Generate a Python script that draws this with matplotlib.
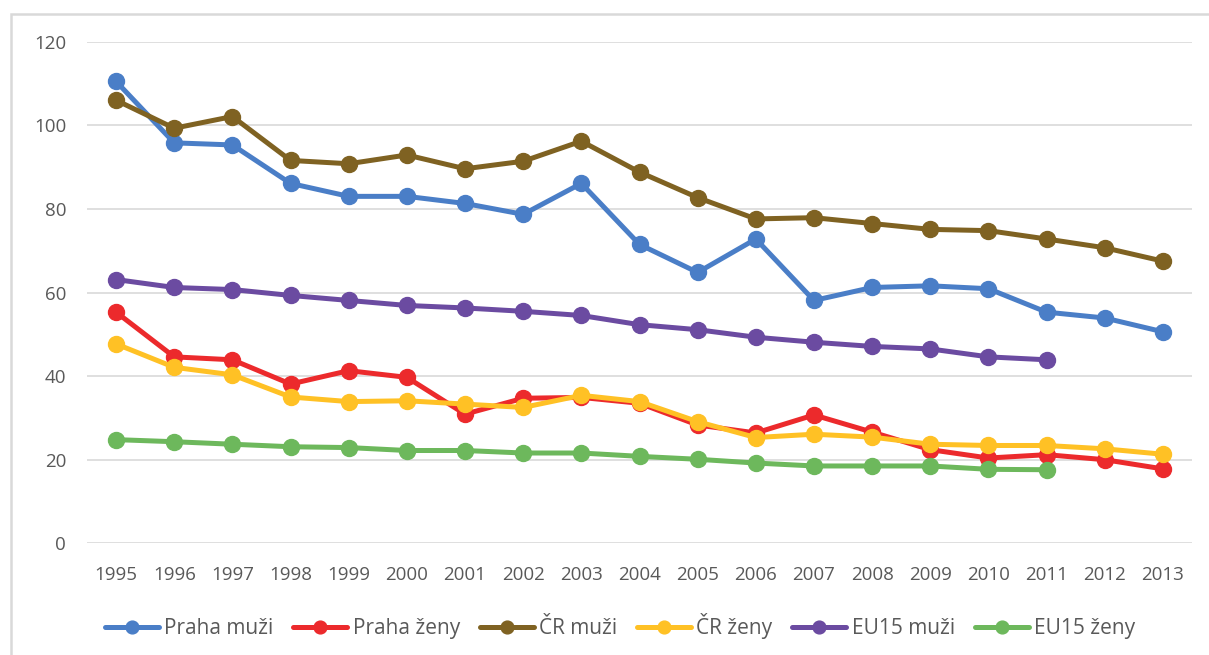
import matplotlib.pyplot as plt
from matplotlib.patches import Rectangle

# Years on the category axis
years = [str(y) for y in range(1995, 2014)]

# Series values
praha_muzi = [110.5, 95.8, 95.3, 86.1, 83.0, 83.0, 81.3, 78.7, 86.1, 71.5,
              64.8, 72.8, 58.1, 61.2, 61.6, 60.9, 55.3, 53.9, 50.6]
praha_zeny = [55.3, 44.6, 43.9, 38.1, 41.3, 39.7, 30.9, 34.7, 34.9, 33.5,
              28.3, 26.4, 30.7, 26.6, 22.4, 20.4, 21.2, 20.0, 17.8]
cr_muzi = [106.0, 99.3, 102.1, 91.6, 90.8, 92.9, 89.6, 91.4, 96.2, 88.8,
           82.7, 77.6, 77.9, 76.5, 75.1, 74.8, 72.8, 70.7, 67.5]
cr_zeny = [47.7, 42.1, 40.3, 35.0, 33.9, 34.1, 33.3, 32.5, 35.4, 33.9,
           29.1, 25.3, 26.1, 25.4, 23.7, 23.4, 23.4, 22.6, 21.3]
eu15_muzi = [63.1, 61.2, 60.7, 59.3, 58.1, 56.9, 56.3, 55.5, 54.5, 52.3,
             51.1, 49.3, 48.1, 47.1, 46.5, 44.6, 43.9]
eu15_zeny = [24.8, 24.3, 23.7, 23.1, 22.9, 22.2, 22.2, 21.6, 21.6, 20.8,
             20.1, 19.2, 18.5, 18.5, 18.5, 17.7, 17.6]

series = [
    ('Praha muži', praha_muzi, '#4A7EC7'),
    ('Praha ženy', praha_zeny, '#EC2A2C'),
    ('ČR muži', cr_muzi, '#7F6222'),
    ('ČR ženy', cr_zeny, '#FFC125'),
    ('EU15 muži', eu15_muzi, '#6B4BA1'),
    ('EU15 ženy', eu15_zeny, '#6DB85C'),
]

plt.rcParams['font.family'] = ['Open Sans', 'DejaVu Sans']

fig = plt.figure(figsize=(12.09, 6.55), dpi=100)
ax = fig.add_axes([87 / 1209, 1 - 543.3 / 655, (1192 - 87) / 1209, (543.3 - 41.7) / 655])

x = list(range(len(years)))
for name, vals, col in series:
    ax.plot(x[:len(vals)], vals, color=col, lw=3.6, marker='o', ms=11.5,
            label=name, solid_capstyle='round')

ax.set_xlim(-0.5, len(years) - 0.5)
ax.set_ylim(0, 120)
ax.set_yticks(range(0, 121, 20))
ax.set_xticks(x)
ax.set_xticklabels(years)
ax.yaxis.grid(True, color='#D9D9D9', lw=1.2)
ax.set_axisbelow(True)
for s in ax.spines.values():
    s.set_visible(False)
ax.tick_params(axis='both', length=0, labelsize=13.5, colors='#595959')
ax.tick_params(axis='y', pad=15)
ax.tick_params(axis='x', pad=16)

fig.legend(loc='center', bbox_to_anchor=(620 / 1209, 1 - 626 / 655), ncol=6,
           frameon=False, fontsize=15, handlelength=2.6, handletextpad=0.25,
           columnspacing=0.95, markerscale=0.8, labelcolor='#595959')

# light border of the chart area
fig.patches.append(Rectangle((11 / 1209, -0.5), 2, 0.5 + (1 - 13.5 / 655),
                             transform=fig.transFigure, fill=False,
                             edgecolor='#D9D9D9', lw=1.8, clip_on=False))

fig.savefig('out.png', dpi=100)
